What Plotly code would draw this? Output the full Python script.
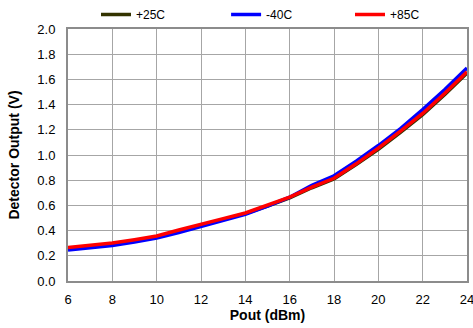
import plotly.graph_objects as go

pout = [6, 7, 8, 9, 10, 11, 12, 13, 14, 15, 16, 17, 18, 19, 20, 21, 22, 23, 24]
v_25c = [0.258, 0.275, 0.294, 0.320, 0.350, 0.395, 0.443, 0.487, 0.535, 0.595, 0.660, 0.740, 0.810, 0.925, 1.045, 1.180, 1.320, 1.480, 1.650]
v_m40c = [0.245, 0.262, 0.281, 0.310, 0.341, 0.385, 0.433, 0.480, 0.530, 0.595, 0.665, 0.760, 0.835, 0.950, 1.075, 1.210, 1.360, 1.520, 1.690]
v_85c = [0.266, 0.285, 0.302, 0.328, 0.357, 0.405, 0.453, 0.495, 0.540, 0.600, 0.665, 0.745, 0.815, 0.930, 1.055, 1.190, 1.330, 1.490, 1.660]

x_ticks = [6, 8, 10, 12, 14, 16, 18, 20, 22, 24]
y_ticks = [0.0, 0.2, 0.4, 0.6, 0.8, 1.0, 1.2, 1.4, 1.6, 1.8, 2.0]

font_family = "Liberation Sans, Arial, sans-serif"

fig = go.Figure()
fig.add_trace(go.Scatter(x=pout, y=v_25c, mode="lines", name="+25C", legend="legend",
                         showlegend=True, line=dict(color="#333300", width=3.5)))
fig.add_trace(go.Scatter(x=pout, y=v_m40c, mode="lines", name="-40C", legend="legend2",
                         showlegend=True, line=dict(color="#0000FF", width=3.5)))
fig.add_trace(go.Scatter(x=pout, y=v_85c, mode="lines", name="+85C", legend="legend3",
                         showlegend=True, line=dict(color="#FF0000", width=3.5)))

def leg(xpos):
    return dict(orientation="h", x=xpos, xanchor="left", xref="container",
                y=1.0, yanchor="top", yref="container",
                font=dict(size=12), bgcolor="rgba(0,0,0,0)", borderwidth=0)

fig.update_layout(
    width=473, height=328,
    showlegend=True,
    margin=dict(l=68, r=6, t=6, b=47),
    paper_bgcolor="white", plot_bgcolor="white",
    font=dict(family=font_family, size=13, color="black"),
    legend=leg(0.203), legend2=leg(0.478), legend3=leg(0.740),
    xaxis=dict(range=[6, 24], tickvals=x_ticks, ticktext=[str(t) for t in x_ticks],
               showgrid=True, gridcolor="#A6A6A6", gridwidth=1,
               showline=True, linecolor="#8C8C8C", linewidth=2, mirror=True,
               ticks="", zeroline=False, ticklabelstandoff=5, automargin=False,
               ticklabeloverflow="allow",
               title=dict(text="<b>Pout (dBm)</b>", font=dict(size=14), standoff=4),
               tickfont=dict(size=13)),
    yaxis=dict(range=[0, 2.0], tickvals=y_ticks, ticktext=[f"{t:.1f}" for t in y_ticks],
               showgrid=True, gridcolor="#A6A6A6", gridwidth=1,
               showline=True, linecolor="#8C8C8C", linewidth=2, mirror=True,
               ticks="", zeroline=False, ticklabelstandoff=8, automargin=False,
               ticklabeloverflow="allow",
               title=dict(text="<b>Detector Output (V)</b>", font=dict(size=14), standoff=14),
               tickfont=dict(size=13)),
)

fig.write_html("out.html")
